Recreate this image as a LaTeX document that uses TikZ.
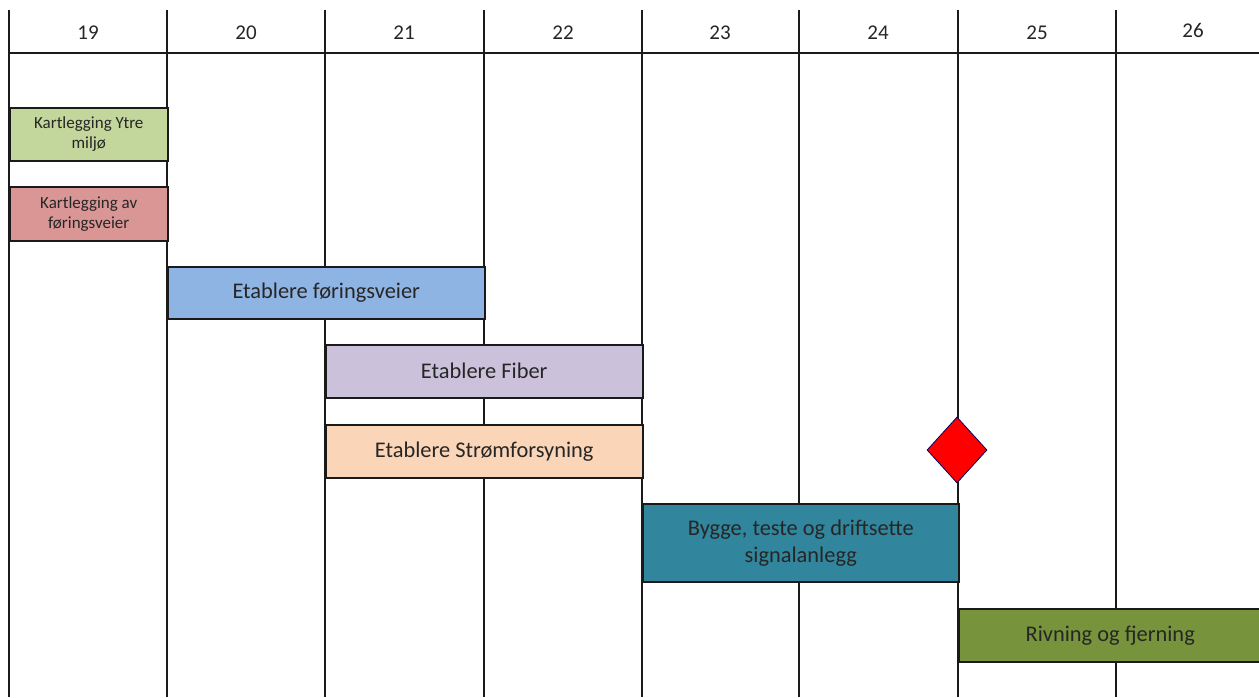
\documentclass[tikz,border=0pt]{standalone}
\usepackage{fontspec}
\setmainfont{Carlito}
\usetikzlibrary{shapes.geometric}
\definecolor{gridc}{HTML}{1A1A1A}
\definecolor{txt}{HTML}{262626}
\definecolor{cgreen}{HTML}{C3D69B}
\definecolor{cred}{HTML}{D99694}
\definecolor{cblue}{HTML}{8EB4E3}
\definecolor{cpurple}{HTML}{CCC1DA}
\definecolor{cpeach}{HTML}{FAD5B8}
\definecolor{cteal}{HTML}{31859C}
\definecolor{colive}{HTML}{77933C}
\tikzset{
  gridline/.style={draw=gridc, line width=1.3pt},
  task/.style={draw=gridc, line width=1.5pt, rectangle, anchor=north west, inner sep=0pt,
     text=txt, align=center, font=\fontsize{22.4}{27}\selectfont},
  smalltask/.style={task, font=\fontsize{17}{20}\selectfont},
  hdr/.style={text=txt, font=\fontsize{21}{24}\selectfont},
  milestone/.style={diamond, draw=blue!40!black, line width=0.8pt, fill=red, inner sep=0pt,
     minimum width=60pt, minimum height=66pt},
}
\begin{document}
\begin{tikzpicture}[x=1pt,y=-1pt]
\useasboundingbox (0,0) rectangle (1259,697);
% grid
\foreach \xx in {9,167,325,484,642,799,958,1116} {
  \draw[gridline] (\xx,10) -- (\xx,697);
}
\draw[gridline] (9,53) -- (1259,53);
% header
\foreach \n/\xx/\yy in {19/88/33,20/246/33,21/404/33,22/563/33,23/720/33,24/878/33,25/1037/33,26/1193/30} {
  \node[hdr] (h\n) at (\xx,\yy) {\n};
}
% tasks
\node[smalltask, fill=cgreen, minimum width=158pt, minimum height=53pt] (t1) at (9,107) {Kartlegging Ytre\\miljø};
\node[smalltask, fill=cred, minimum width=158pt, minimum height=54pt] (t2) at (9,186) {Kartlegging av\\føringsveier};
\node[task, fill=cblue, minimum width=317pt, minimum height=52pt] (t3) at (167,266) {Etablere føringsveier};
\node[task, fill=cpurple, minimum width=317pt, minimum height=53pt] (t4) at (325,344) {Etablere Fiber};
\node[task, fill=cpeach, minimum width=317pt, minimum height=53pt] (t5) at (325,424) {Etablere Strømforsyning};
\node[task, fill=cteal, minimum width=316pt, minimum height=78pt] (t6) at (642,503) {Bygge, teste og driftsette\\signalanlegg};
\node[task, fill=colive, minimum width=303pt, minimum height=53pt] (t7) at (958,608) {Rivning og fjerning};
% milestone
\node[milestone] (m1) at (957,450) {};
\end{tikzpicture}
\end{document}
